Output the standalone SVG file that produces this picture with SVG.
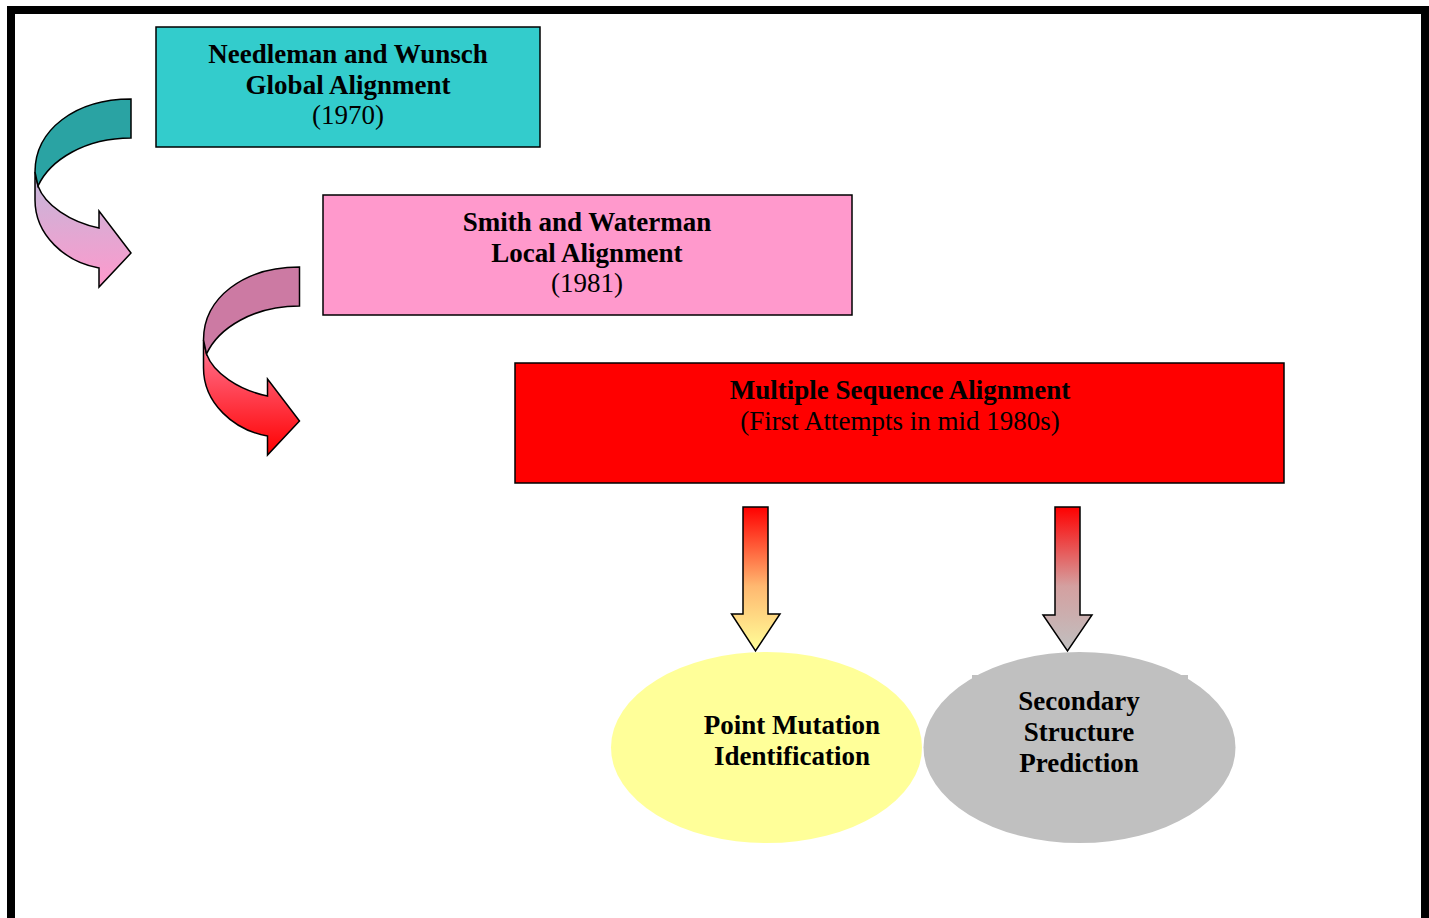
<svg xmlns="http://www.w3.org/2000/svg" width="1429" height="918" viewBox="0 0 1429 918">
<defs>
<style>
.box{stroke:#000;stroke-width:1.5}
.arr{stroke:#000;stroke-width:1.5;stroke-linejoin:miter}
.b{font-family:"Liberation Serif","Times New Roman",serif;font-weight:bold;font-size:27px;text-anchor:middle;fill:#000}
.r{font-family:"Liberation Serif","Times New Roman",serif;font-size:27px;text-anchor:middle;fill:#000}
</style>
<linearGradient id="g1" x1="0" y1="172" x2="0" y2="287" gradientUnits="userSpaceOnUse">
<stop offset="0" stop-color="#c2b8da"/><stop offset="1" stop-color="#ff99cc"/>
</linearGradient>
<linearGradient id="g2" x1="0" y1="172" x2="0" y2="287" gradientUnits="userSpaceOnUse">
<stop offset="0" stop-color="#ff7a98"/><stop offset="1" stop-color="#ff0000"/>
</linearGradient>
<linearGradient id="g3" x1="0" y1="507" x2="0" y2="651" gradientUnits="userSpaceOnUse">
<stop offset="0" stop-color="#ff0000"/><stop offset="0.55" stop-color="#ffb870"/><stop offset="1" stop-color="#ffff99"/>
</linearGradient>
<linearGradient id="g4" x1="0" y1="507" x2="0" y2="651" gradientUnits="userSpaceOnUse">
<stop offset="0" stop-color="#ff0000"/><stop offset="0.55" stop-color="#d4a0a0"/><stop offset="1" stop-color="#c0c0c0"/>
</linearGradient>
</defs>
<rect width="1429" height="918" fill="#fff"/>
<path d="M11,918 L11,10 L1425,10 L1425,918" fill="none" stroke="#000" stroke-width="8"/>

<g id="nw">
<rect class="box" x="156" y="27" width="384" height="120" fill="#33cccc"/>
<text class="b" x="348" y="63">Needleman and Wunsch</text>
<text class="b" x="348" y="94">Global Alignment</text>
<text class="r" x="348" y="124">(1970)</text>
</g>
<g id="sw">
<rect class="box" x="323" y="195" width="529" height="120" fill="#ff99cc"/>
<text class="b" x="587" y="231">Smith and Waterman</text>
<text class="b" x="587" y="262">Local Alignment</text>
<text class="r" x="587" y="292">(1981)</text>
</g>
<g id="msa">
<rect class="box" x="515" y="363" width="769" height="120" fill="#ff0000"/>
<text class="b" x="900" y="399">Multiple Sequence Alignment</text>
<text class="r" x="900" y="430">(First Attempts in mid 1980s)</text>
</g>
<g id="pmi">
<ellipse cx="766.5" cy="747.5" rx="155.5" ry="95.5" fill="#ffff99"/>
<text class="b" x="792" y="734">Point Mutation</text>
<text class="b" x="792" y="765">Identification</text>
</g>
<g id="ssp">
<ellipse cx="1079.5" cy="747.5" rx="156" ry="95.5" fill="#c0c0c0"/>
<rect x="972" y="675" width="216" height="100" fill="#c0c0c0"/>
<text class="b" x="1079" y="710">Secondary</text>
<text class="b" x="1079" y="741">Structure</text>
<text class="b" x="1079" y="772">Prediction</text>
</g>

<g id="connectors">
<g>
<path class="arr" fill="url(#g1)" d="M35,172 L35,200 C35,235 65,262 99,268 L99,287 L131,253 L99,211 L99,228 C70,222 45,205 38,186 Z"/>
<path class="arr" fill="#2aa3a3" d="M131,99 C75,99 35,130 35,172 L38,186 C50,160 85,138 131,138 Z"/>
</g>
<g transform="translate(168.5,168)">
<path class="arr" fill="url(#g2)" d="M35,172 L35,200 C35,235 65,262 99,268 L99,287 L131,253 L99,211 L99,228 C70,222 45,205 38,186 Z"/>
<path class="arr" fill="#cc7aa3" d="M131,99 C75,99 35,130 35,172 L38,186 C50,160 85,138 131,138 Z"/>
</g>
<path class="arr" fill="url(#g3)" d="M743,507 L768,507 L768,614 L780,614 L755.5,651 L731.5,614 L743,614 Z"/>
<path class="arr" fill="url(#g4)" d="M1055,507 L1080,507 L1080,615 L1092,615 L1067.5,651 L1043,615 L1055,615 Z"/>
</g>
</svg>
